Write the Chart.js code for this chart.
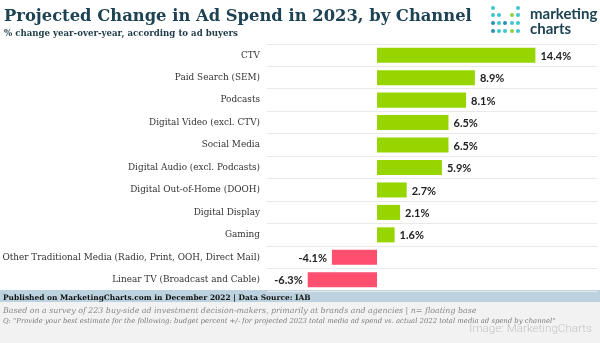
<!DOCTYPE html>
<html>
<head>
<meta charset="utf-8">
<script src="https://cdn.jsdelivr.net/npm/chart.js@4.4.1/dist/chart.umd.min.js"></script>
<style>
html, body { margin: 0; padding: 0; background: #fff; }
#wrap { width: 600px; height: 343px; }
</style>
</head>
<body>
<div id="wrap"><canvas id="chart" width="600" height="343"></canvas></div>
<script>
"use strict";

const channels = [
    'CTV',
    'Paid Search (SEM)',
    'Podcasts',
    'Digital Video (excl. CTV)',
    'Social Media',
    'Digital Audio (excl. Podcasts)',
    'Digital Out-of-Home (DOOH)',
    'Digital Display',
    'Gaming',
    'Other Traditional Media (Radio, Print, OOH, Direct Mail)',
    'Linear TV (Broadcast and Cable)'
];
const changes = [14.4, 8.9, 8.1, 6.5, 6.5, 5.9, 2.7, 2.1, 1.6, -4.1, -6.3];
const axisRange = [-10, 20];

const title = 'Projected Change in Ad Spend in 2023, by Channel';
const subtitle = '% change year-over-year, according to ad buyers';
const sourceLine = 'Published on MarketingCharts.com in December 2022 | Data Source: IAB';
const noteLine = 'Based on a survey of 223 buy-side ad investment decision-makers, primarily at brands and agencies | n= floating base';
const questionLine = 'Q: "Provide your best estimate for the following: budget percent +/- for projected 2023 total media ad spend vs. actual 2022 total media ad spend by channel"';

const SLAB = "'DejaVu Serif', serif";
const SANS = "Lato, 'Noto Sans', sans-serif";

// size a font so the text spans a given width
function fitSize(ctx, text, prefix, family, width) {
    ctx.font = prefix + ' 100px ' + family;
    return 100 * width / ctx.measureText(text).width;
}

function drawFit(ctx, text, prefix, family, x, y, width, color, align) {
    const size = fitSize(ctx, text, prefix, family, width);
    ctx.font = prefix + ' ' + size.toFixed(2) + 'px ' + family;
    ctx.fillStyle = color;
    ctx.textAlign = align || 'left';
    ctx.textBaseline = 'alphabetic';
    ctx.fillText(text, x, y);
}

const measureCtx = document.createElement('canvas').getContext('2d');
const tickSize = Math.min(10.5, fitSize(measureCtx, channels[9], 'normal', SLAB, 258));

const frame = {
    id: 'frame',
    beforeDraw(chart) {
        const ctx = chart.ctx;
        ctx.save();
        ctx.fillStyle = '#bcd3df';
        ctx.fillRect(0, 290, 600, 12);
        ctx.fillStyle = '#f2f2f2';
        ctx.fillRect(0, 302, 600, 41);
        ctx.restore();
    },
    afterDatasetsDraw(chart) {
        const ctx = chart.ctx;
        const meta = chart.getDatasetMeta(0);
        ctx.save();
        ctx.font = 'bold 11px ' + SANS;
        ctx.fillStyle = '#222';
        ctx.textBaseline = 'middle';
        meta.data.forEach((bar, i) => {
            const v = changes[i];
            const label = v.toFixed(1) + '%';
            if (v >= 0) {
                ctx.textAlign = 'left';
                ctx.fillText(label, bar.x + 5, bar.y + 1);
            } else {
                ctx.textAlign = 'right';
                ctx.fillText(label, bar.x - 5, bar.y + 1);
            }
        });
        ctx.restore();
    },
    afterDraw(chart) {
        const ctx = chart.ctx;
        ctx.save();
        drawFit(ctx, title, 'bold', SLAB, 4, 21, 468, '#1d4253');
        drawFit(ctx, subtitle, 'bold', SLAB, 4, 36, 234, '#1d3a47');

        // logo
        const cols = [493, 499, 505, 512, 518];
        const rows = [8, 15, 23, 31];
        const dots = [
            ['#3cc6d0', null, null, null, '#3cc6d0'],
            ['#3cc6d0', '#3cc6d0', null, '#8fd43f', '#3cc6d0'],
            ['#2a8fb5', '#3cc6d0', '#2a8fb5', '#3cc6d0', '#3cc6d0'],
            ['#2a8fb5', '#3cc6d0', '#3cc6d0', '#8fd43f', '#3cc6d0']
        ];
        dots.forEach((row, r) => row.forEach((c, k) => {
            if (!c) return;
            ctx.fillStyle = c;
            ctx.beginPath();
            ctx.arc(cols[k], rows[r], 2, 0, Math.PI * 2);
            ctx.fill();
        }));
        ctx.fillStyle = '#1d4253';
        ctx.font = 'bold 15px ' + SANS;
        ctx.textAlign = 'left';
        ctx.fillText('marketing', 530, 19);
        ctx.fillText('charts', 530, 34);

        drawFit(ctx, sourceLine, 'bold', SLAB, 3, 300, 308, '#111');
        drawFit(ctx, noteLine, 'italic', SLAB, 3, 313, 474, '#8a8a8a');
        drawFit(ctx, questionLine, 'italic', SLAB, 3, 323, 553, '#7a7a7a');
        drawFit(ctx, 'Image: MarketingCharts', '300', "Roboto, 'Noto Sans', sans-serif", 592, 332, 123, '#c4c4c4', 'right');
        ctx.restore();
    }
};

const ctx = document.getElementById('chart').getContext('2d');

new Chart(ctx, {
    type: 'bar',
    data: {
        labels: channels,
        datasets: [{
            data: changes,
            backgroundColor: changes.map(v => v >= 0 ? '#96d500' : '#ff4f6f'),
            barPercentage: 0.67,
            categoryPercentage: 1,
        }]
    },
    options: {
        indexAxis: 'y',
        responsive: false,
        animation: false,
        layout: {
            padding: { top: 44, bottom: 52, right: 3, left: 0 }
        },
        plugins: {
            legend: { display: false },
            tooltip: { enabled: false },
        },
        scales: {
            x: {
                display: false,
                min: axisRange[0],
                max: axisRange[1],
            },
            y: {
                afterFit(scale) { scale.width = 267; },
                border: { display: false },
                grid: {
                    color: '#e9e9e9',
                    drawTicks: false,
                    offset: true,
                },
                ticks: {
                    padding: 7,
                    color: '#333',
                    font: { family: SLAB, size: tickSize },
                },
            },
        },
    },
    plugins: [frame]
});
</script>
</body>
</html>
